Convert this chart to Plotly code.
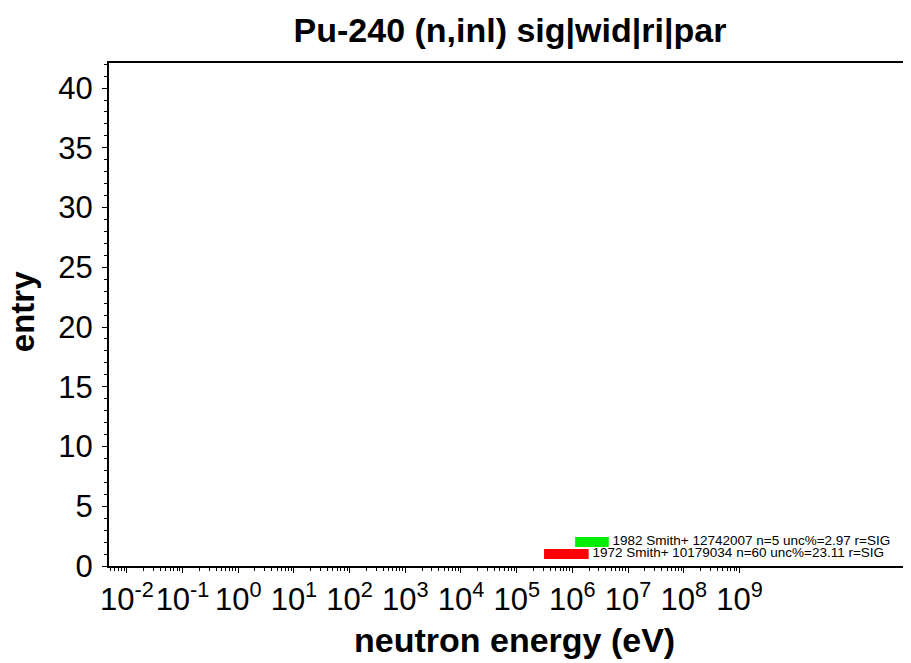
import plotly.graph_objects as go

# EXFOR entries (one row each)
entries = [1, 2]
e_min = [3.1e5, 1.12e6]
e_max = [1.96e6, 4.5e6]
colors = ['#ff0000', '#00ee00']
labels = [
    '1972 Smith+ 10179034 n=60 unc%=23.11 r=SIG',
    '1982 Smith+ 12742007 n=5 unc%=2.97 r=SIG',
]

# axis ticks
x_exp = list(range(-2, 10))
x_tickvals = [10.0 ** e for e in x_exp]
x_ticktext = ['10<sup>%d</sup>' % e for e in x_exp]
x_minor = [m * 10.0 ** e for e in range(-3, 9) for m in range(2, 10)]
y_tickvals = [0, 5, 10, 15, 20, 25, 30, 35, 40]

font = 'Liberation Sans, Arial, sans-serif'

fig = go.Figure()

for k, lo, hi, c, lab in zip(entries, e_min, e_max, colors, labels):
    fig.add_trace(go.Scatter(
        x=[lo, hi], y=[k, k],
        mode='lines',
        line=dict(color=c, width=10),
        showlegend=False,
        hoverinfo='skip',
    ))
    fig.add_trace(go.Scatter(
        x=[hi], y=[k],
        mode='text',
        text=[' ' + lab],
        textposition='middle right',
        textfont=dict(size=13.5, color='black', family=font),
        showlegend=False,
        hoverinfo='skip',
    ))

# page body has an 8px margin, so margins are shifted to compensate
fig.update_layout(
    width=911, height=663,
    margin=dict(l=101, r=8, t=55, b=105),
    paper_bgcolor='white',
    plot_bgcolor='white',
    font=dict(family=font, color='black'),
    title=dict(
        text='<b>Pu-240 (n,inl) sig|wid|ri|par</b>',
        x=0.551, xanchor='center', y=0.967, yanchor='middle',
        font=dict(size=34, family=font),
    ),
    annotations=[
        dict(text='<b>neutron energy (eV)</b>', xref='paper', yref='paper',
             x=0.505, y=-0.147, xanchor='center', yanchor='middle',
             showarrow=False, font=dict(size=34)),
        dict(text='<b>entry</b>', xref='paper', yref='paper',
             x=-0.107, y=0.505, xanchor='center', yanchor='middle',
             textangle=-90, showarrow=False, font=dict(size=33)),
    ],
)

fig.update_xaxes(
    type='log',
    range=[-2.32, 12.08],
    automargin=False,
    tickvals=x_tickvals,
    ticktext=x_ticktext,
    tickangle=0,
    tickfont=dict(size=31),
    ticks='outside', ticklen=5, tickcolor='black',
    minor=dict(tickvals=x_minor, ticks='outside', ticklen=3, tickcolor='black', showgrid=False),
    showgrid=False, zeroline=False,
    showline=True, linecolor='black', linewidth=2, mirror=True,
)

fig.update_yaxes(
    range=[0, 42.1],
    automargin=False,
    tickvals=y_tickvals,
    tickfont=dict(size=31),
    ticklabelstandoff=3,
    ticks='outside', ticklen=5, tickcolor='black',
    minor=dict(dtick=1, ticks='outside', ticklen=3, tickcolor='black', showgrid=False),
    showgrid=False, zeroline=False,
    showline=True, linecolor='black', linewidth=2,
)

fig.write_html('out.html')
